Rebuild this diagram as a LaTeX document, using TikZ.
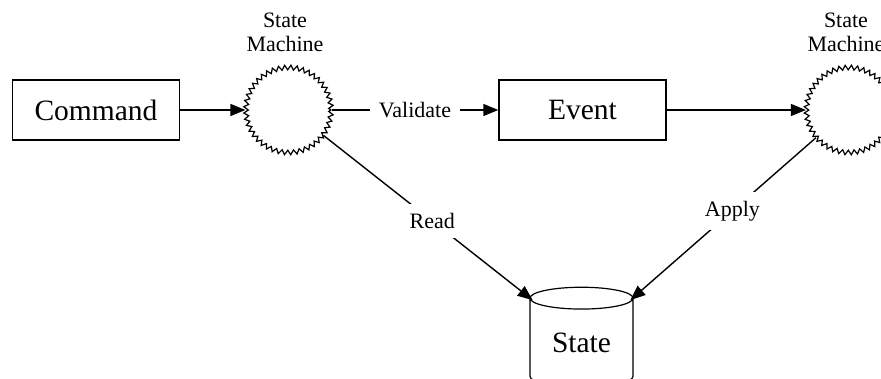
\documentclass[tikz,border=0pt]{standalone}
\usepackage{fontspec}
\setmainfont{Liberation Serif}
\usetikzlibrary{
  arrows.meta,
  decorations.pathmorphing,
  shapes.geometric}

\tikzset{
  box/.style={draw, line width=1.4pt, minimum width=167pt, minimum height=60pt,
    inner sep=0pt, font=\fontsize{29.5}{31}\selectfont},
  machine/.style={circle, draw, line width=1.2pt, minimum size=85pt, inner sep=0pt,
    decorate, decoration={zigzag, segment length=6pt, amplitude=2.3pt}},
  caption/.style={align=center, font=\fontsize{22}{24}\selectfont},
  lbl/.style={fill=white, inner sep=9pt, font=\fontsize{22}{24}\selectfont},
  store/.style={cylinder, shape border rotate=90, draw, line width=1.2pt, aspect=0.37,
    minimum width=103pt, minimum height=100pt, inner sep=0pt,
    font=\fontsize{29.5}{31}\selectfont},
  conn/.style={line width=1.4pt, -{Triangle[length=15pt,width=12pt]}}
}

\begin{document}
\begin{tikzpicture}[x=1pt,y=1pt]
            \useasboundingbox (0,0) rectangle (881,379);
            \node[box] (cmd) at (96,269) {Command};
            \node[machine] (sm1) at (288.5,269) {};
            \node[caption] (sm1lbl) at (285,347) {State\\Machine};
            \node[box] (evt) at (582.5,269) {Event};
            \node[machine] (sm2) at (849,269) {};
            \node[caption] (sm2lbl) at (846,347) {State\\Machine};
            \node[store] (db) at (581.5,36) {State};
            \draw[conn] (cmd) -- (sm1);
            \draw[conn] (sm1) -- node[lbl] (val) {Validate} (evt);
            \draw[conn] (evt) -- (sm2);
            \draw[conn] (sm1.-36) -- node[lbl,pos=0.52] (rd) {Read} ([yshift=-6pt]db.north west);
            \draw[conn] (sm2.-140) -- node[lbl,pos=0.45] (ap) {Apply} ([yshift=-6pt]db.north east);
        \end{tikzpicture}
\end{document}
